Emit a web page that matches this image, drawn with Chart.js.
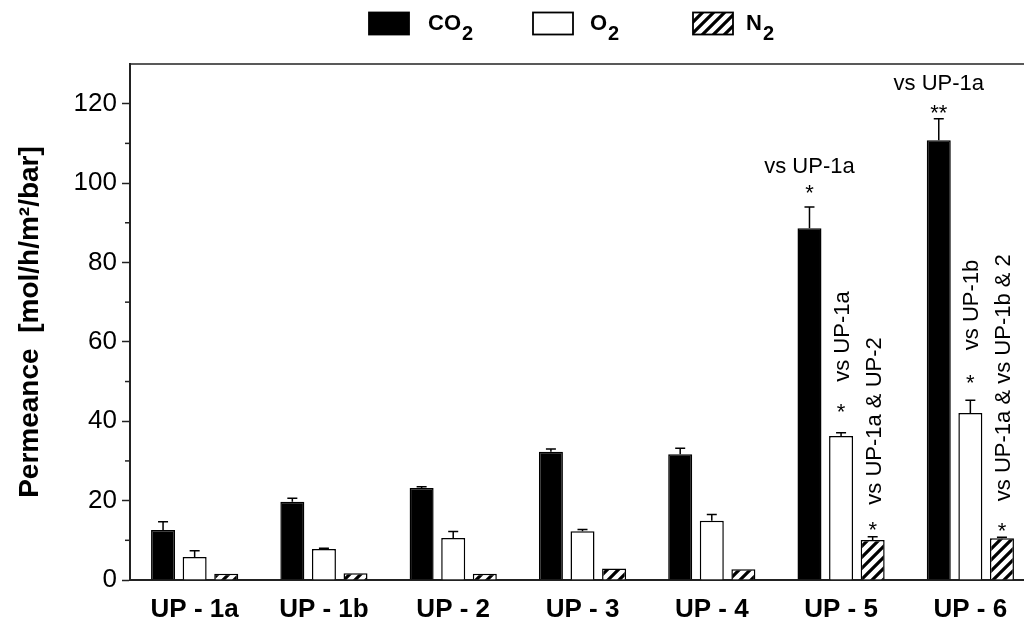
<!DOCTYPE html>
<html>
<head>
<meta charset="utf-8">
<script src="https://cdn.jsdelivr.net/npm/chart.js@4.4.1/dist/chart.umd.min.js"></script>
<style>
  html, body { margin: 0; padding: 0; background: #fff; overflow: hidden; }
  #wrap { width: 1035px; height: 622px; position: relative; }
</style>
</head>
<body>
<div id="wrap"><canvas id="permChart"></canvas></div>
<script>
// data
const categories = ['UP - 1a', 'UP - 1b', 'UP - 2', 'UP - 3', 'UP - 4', 'UP - 5', 'UP - 6'];
const co2 = [12.6, 19.7, 23.2, 32.3, 31.7, 88.6, 110.8];
const co2Err = [2.1, 0.9, 0.3, 0.7, 1.5, 5.4, 5.4];
const o2 = [5.8, 7.8, 10.6, 12.3, 14.9, 36.3, 42.1];
const o2Err = [1.6, 0.2, 1.6, 0.4, 1.6, 0.8, 3.2];
const n2 = [1.6, 1.7, 1.6, 2.9, 2.7, 10.1, 10.5];
const n2Err = [0, 0, 0, 0, 0, 0.8, 0.3];
const yTicks = [0, 20, 40, 60, 80, 100, 120];
const yMinorTicks = [10, 30, 50, 70, 90, 110];
const yMax = 130;

// significance notes: group index, series index, star, text
const notes = [
  { group: 5, series: 0, star: '*', text: 'vs UP-1a', rotated: false, starGap: 19, textGap: 15 },
  { group: 6, series: 0, star: '**', text: 'vs UP-1a', rotated: false, starGap: 11, textGap: 18 },
  { group: 5, series: 1, star: '*', text: 'vs UP-1a', rotated: true, starGap: 26, textGap: 25 },
  { group: 5, series: 2, star: '*', text: 'vs UP-1a & UP-2', rotated: true, starGap: 12, textGap: 20 },
  { group: 6, series: 1, star: '*', text: 'vs UP-1b', rotated: true, starGap: 23, textGap: 27 },
  { group: 6, series: 2, star: '*', text: 'vs UP-1a & vs UP-1b & 2', rotated: true, starGap: 12, textGap: 24 }
];

const FONT = '"Liberation Sans", Arial, sans-serif';

// hatch pattern for N2
function makeHatch() {
  const c = document.createElement('canvas');
  c.width = 11; c.height = 11;
  const g = c.getContext('2d');
  g.fillStyle = '#fff';
  g.fillRect(0, 0, 11, 11);
  g.strokeStyle = '#000';
  g.lineWidth = 3.2;
  g.beginPath();
  g.moveTo(-2, 13); g.lineTo(13, -2);
  g.moveTo(-8, 8); g.lineTo(8, -8);
  g.moveTo(3, 19); g.lineTo(19, 3);
  g.stroke();
  return g.createPattern(c, 'repeat');
}
const hatch = makeHatch();

const errors = [co2Err, o2Err, n2Err];

// error bars, minor ticks, top frame line, notes, legend
const extrasPlugin = {
  id: 'extras',
  afterDatasetsDraw(chart) {
    const ctx = chart.ctx;
    const y = chart.scales.y;
    ctx.save();
    ctx.strokeStyle = '#000';
    ctx.lineWidth = 1.5;
    chart.data.datasets.forEach((ds, di) => {
      const meta = chart.getDatasetMeta(di);
      meta.data.forEach((bar, i) => {
        const err = errors[di][i];
        if (!err) return;
        const top = y.getPixelForValue(ds.data[i] + err);
        ctx.beginPath();
        ctx.moveTo(bar.x, bar.y);
        ctx.lineTo(bar.x, top);
        ctx.moveTo(bar.x - 5, top);
        ctx.lineTo(bar.x + 5, top);
        ctx.stroke();
      });
    });
    ctx.restore();
  },
  afterDraw(chart) {
    const ctx = chart.ctx;
    const area = chart.chartArea;
    const y = chart.scales.y;
    ctx.save();
    // top frame line
    ctx.strokeStyle = '#222';
    ctx.lineWidth = 1.5;
    ctx.beginPath();
    ctx.moveTo(area.left, area.top);
    ctx.lineTo(area.right, area.top);
    ctx.stroke();
    // minor ticks
    yMinorTicks.forEach(v => {
      const py = y.getPixelForValue(v);
      ctx.beginPath();
      ctx.moveTo(area.left - 5, py);
      ctx.lineTo(area.left, py);
      ctx.stroke();
    });

    // notes
    ctx.fillStyle = '#000';
    ctx.font = '22px ' + FONT;
    notes.forEach(n => {
      const ds = chart.data.datasets[n.series];
      const bar = chart.getDatasetMeta(n.series).data[n.group];
      const errTop = y.getPixelForValue(ds.data[n.group] + errors[n.series][n.group]);
      const starY = errTop - n.starGap;
      ctx.textAlign = 'center';
      ctx.textBaseline = 'alphabetic';
      ctx.fillText(n.star, bar.x, starY + 12.5);
      if (n.rotated) {
        ctx.save();
        ctx.translate(bar.x + 8, starY - n.textGap);
        ctx.rotate(-Math.PI / 2);
        ctx.textAlign = 'left';
        ctx.fillText(n.text, 0, 0);
        ctx.restore();
      } else {
        ctx.fillText(n.text, bar.x, starY - n.textGap);
      }
    });

    // legend
    const legendX = [369, 533, 693];
    const textX = [428, 590, 746];
    const subs = ['CO', 'O', 'N'];
    chart.data.datasets.forEach((ds, i) => {
      ctx.fillStyle = ds.backgroundColor;
      ctx.fillRect(legendX[i], 12.5, 40, 22);
      ctx.strokeStyle = '#000';
      ctx.lineWidth = 1.8;
      ctx.strokeRect(legendX[i], 12.5, 40, 22);
      ctx.fillStyle = '#000';
      ctx.textAlign = 'left';
      ctx.textBaseline = 'alphabetic';
      ctx.font = 'bold 22px ' + FONT;
      ctx.fillText(subs[i], textX[i], 29.5);
      const w = ctx.measureText(subs[i]).width;
      ctx.font = 'bold 20px ' + FONT;
      ctx.fillText('2', textX[i] + w + 1, 39.5);
    });
    ctx.restore();
  }
};

const ctx = document.getElementById('permChart').getContext('2d');
new Chart(ctx, {
  type: 'bar',
  data: {
    labels: categories,
    datasets: [
      { label: 'CO2', data: co2, backgroundColor: '#000', borderColor: '#000', borderWidth: 1.5 },
      { label: 'O2', data: o2, backgroundColor: '#fff', borderColor: '#000', borderWidth: 1.5 },
      { label: 'N2', data: n2, backgroundColor: hatch, borderColor: '#000', borderWidth: 1.5 }
    ]
  },
  options: {
    responsive: true,
    maintainAspectRatio: false,
    animation: false,
    devicePixelRatio: 1,
    layout: { padding: { top: 64, right: 0, left: 0, bottom: 0 } },
    datasets: { bar: { categoryPercentage: 0.733, barPercentage: 0.76 } },
    plugins: { legend: { display: false }, tooltip: { enabled: false } },
    scales: {
      x: {
        grid: { display: false, drawTicks: false },
        border: { display: true, color: '#222', width: 2 },
        ticks: { color: '#000', font: { family: FONT, size: 26, weight: 'bold' }, padding: 14, maxRotation: 0 },
        afterFit: s => { s.height = 42; }
      },
      y: {
        min: 0,
        max: yMax,
        afterBuildTicks: s => { s.ticks = yTicks.map(v => ({ value: v })); },
        ticks: { color: '#000', font: { family: FONT, size: 26 }, padding: 5 },
        grid: { drawOnChartArea: false, drawTicks: true, tickLength: 8, tickColor: '#222', tickWidth: 1.5 },
        border: { display: true, color: '#222', width: 2 },
        title: {
          display: true,
          text: 'Permeance  [mol/h/m\u00b2/bar]',
          color: '#000',
          font: { family: FONT, size: 28, weight: 'bold' },
          padding: { top: 13, bottom: 0 }
        },
        afterFit: s => { s.width = 130; }
      }
    }
  },
  plugins: [extrasPlugin]
});
</script>
</body>
</html>
